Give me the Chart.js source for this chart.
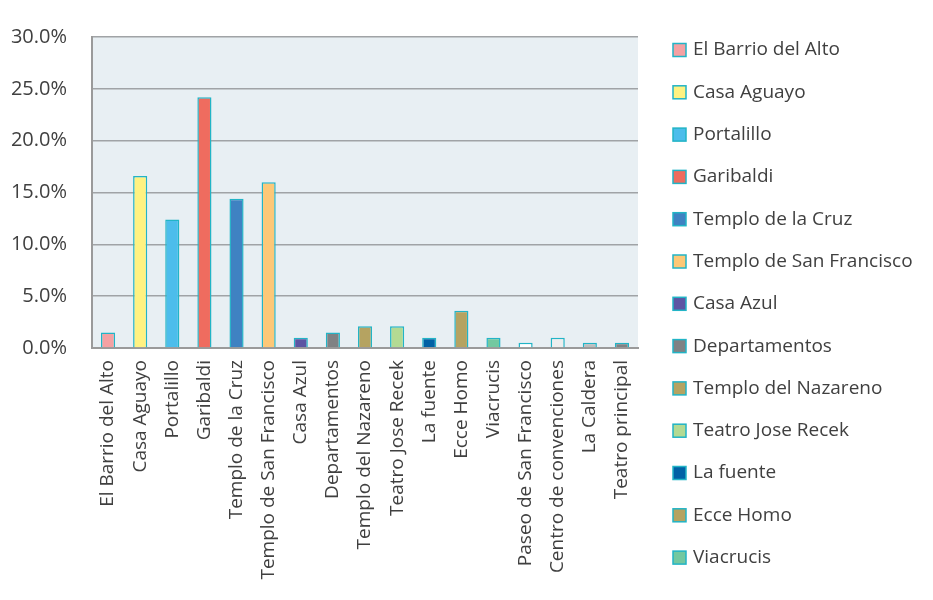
<!DOCTYPE html>
<html>
<head>
<meta charset="utf-8">
<script src="https://cdn.jsdelivr.net/npm/chart.js@4.4.1/dist/chart.umd.min.js"></script>
<style>
    html, body { margin: 0; padding: 0; background: #fff; }
    #wrap { width: 933px; height: 600px; }
</style>
</head>
<body>
<div id="wrap"><canvas id="chart1"></canvas></div>
<script>
const lugares = ['El Barrio del Alto', 'Casa Aguayo', 'Portalillo', 'Garibaldi', 'Templo de la Cruz',
    'Templo de San Francisco', 'Casa Azul', 'Departamentos', 'Templo del Nazareno', 'Teatro Jose Recek',
    'La fuente', 'Ecce Homo', 'Viacrucis', 'Paseo de San Francisco', 'Centro de convenciones',
    'La Caldera', 'Teatro principal'];
const porcentajes = [1.5, 16.6, 12.4, 24.2, 14.4, 16.0, 1.0, 1.5, 2.1, 2.1, 1.0, 3.6, 1.0, 0.5, 1.0, 0.5, 0.5];
const colores = ['#F4A1A3', '#FFF281', '#4CBDEB', '#EF6C5F', '#3F82C2', '#FDC877', '#5C55A3', '#808284',
    '#B5A361', '#B3DA93', '#0061A5', '#B5A361', '#73C8A0', '#FFFFFF', '#EEEEEE', '#BEBEBE', '#808284'];
const yTicks = [0, 5, 10, 15, 20, 25, 30];
const borde = '#22B4C6';
const textoColor = '#404040';
const fuente = 'Open Sans';

// fondo gris azulado del área de trazado
const fondoArea = {
    id: 'fondoArea',
    beforeDraw(chart) {
        const {ctx, chartArea: a} = chart;
        ctx.save();
        ctx.fillStyle = '#E8EFF3';
        ctx.fillRect(a.left, a.top, a.right - a.left, a.bottom - a.top);
        ctx.restore();
    }
};

// leyenda a la derecha, solo caben las primeras 13 entradas
const leyenda = {
    id: 'leyenda',
    afterDraw(chart) {
        const ctx = chart.ctx;
        const x = chart.chartArea.right + 35;
        ctx.save();
        ctx.font = '19px "' + fuente + '"';
        ctx.textBaseline = 'middle';
        ctx.textAlign = 'left';
        lugares.slice(0, 13).forEach((l, i) => {
            const y = 50 + i * 42.3;
            ctx.fillStyle = colores[i];
            ctx.fillRect(x, y - 6.5, 13, 13);
            ctx.strokeStyle = borde;
            ctx.lineWidth = 1.5;
            ctx.strokeRect(x, y - 6.5, 13, 13);
            ctx.fillStyle = textoColor;
            ctx.fillText(l, x + 20, y);
        });
        ctx.restore();
    }
};

document.addEventListener('DOMContentLoaded', () => {
    const chart1 = document.getElementById('chart1');
    new Chart(chart1.getContext('2d'), {
        type: 'bar',
        data: {
            labels: lugares,
            datasets: [{
                label: 'Porcentaje',
                data: porcentajes,
                backgroundColor: colores,
                borderColor: borde,
                borderWidth: 1.5,
                barPercentage: 0.44,
                categoryPercentage: 1
            }]
        },
        plugins: [fondoArea, leyenda],
        options: {
            responsive: true,
            maintainAspectRatio: false,
            animation: false,
            layout: { padding: { left: 0, top: 20, right: 295, bottom: 0 } },
            plugins: {
                legend: { display: false },
                tooltip: { enabled: false }
            },
            scales: {
                x: {
                    grid: { display: false, drawTicks: false },
                    border: { color: '#9A9A9A', width: 2 },
                    afterFit: (scale) => { scale.height = 252; },
                    ticks: {
                        autoSkip: false,
                        maxRotation: 90,
                        minRotation: 90,
                        padding: 12,
                        color: textoColor,
                        font: { family: fuente, size: 19 }
                    }
                },
                y: {
                    min: 0,
                    max: 30,
                    afterBuildTicks: (axis) => { axis.ticks = yTicks.map(v => ({ value: v })); },
                    afterFit: (scale) => { scale.width = 92; },
                    grid: { color: '#A0A3A6', lineWidth: 1.5, drawTicks: false },
                    border: { color: '#9A9A9A', width: 2 },
                    ticks: {
                        padding: 25,
                        color: textoColor,
                        font: { family: fuente, size: 20 },
                        callback: (v) => v.toFixed(1) + '%'
                    }
                }
            }
        }
    });
});
</script>
</body>
</html>
